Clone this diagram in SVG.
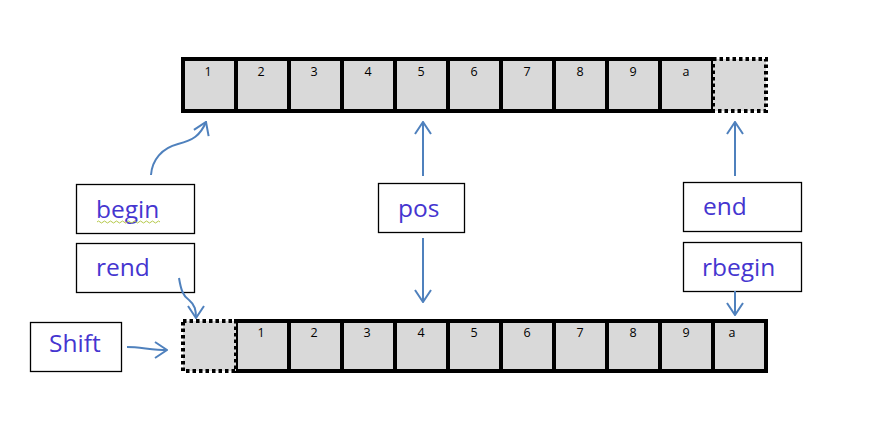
<svg xmlns="http://www.w3.org/2000/svg" width="869" height="438" viewBox="0 0 869 438">
<defs>
<style>
.cell{fill:#d9d9d9;stroke:#000;stroke-width:4}
.dot{fill:#d9d9d9;stroke:#000;stroke-width:4;stroke-dasharray:3.5 3}
.num{font-family:"Open Sans","Liberation Sans",sans-serif;font-size:12.5px;fill:#000;text-anchor:middle}
.box{fill:#fff;stroke:#000;stroke-width:1.3}
.lbl{font-family:"Open Sans","Liberation Sans",sans-serif;font-size:24.5px;fill:#4535d0}
.con{fill:none;stroke:#4f81bd;stroke-width:2}
</style>
<marker id="ah" viewBox="0 0 14 18" refX="13" refY="9" markerWidth="14" markerHeight="18" markerUnits="userSpaceOnUse" orient="auto">
<path d="M1,1 L13,9 L1,17" fill="none" stroke="#4f81bd" stroke-width="2"/>
</marker>
</defs>
<rect width="869" height="438" fill="#fff"/>
<g id="top-array">
<rect class="cell" x="183" y="59" width="53" height="52"/>
<rect class="cell" x="236" y="59" width="53" height="52"/>
<rect class="cell" x="289" y="59" width="53" height="52"/>
<rect class="cell" x="342" y="59" width="53" height="52"/>
<rect class="cell" x="395" y="59" width="53" height="52"/>
<rect class="cell" x="448" y="59" width="53" height="52"/>
<rect class="cell" x="501" y="59" width="53" height="52"/>
<rect class="cell" x="554" y="59" width="53" height="52"/>
<rect class="cell" x="607" y="59" width="53" height="52"/>
<rect class="cell" x="660" y="59" width="53" height="52"/>
<rect class="dot" x="713" y="59" width="53" height="52"/>
<text class="num" x="208" y="76">1</text>
<text class="num" x="261" y="76">2</text>
<text class="num" x="314" y="76">3</text>
<text class="num" x="368" y="76">4</text>
<text class="num" x="421" y="76">5</text>
<text class="num" x="474" y="76">6</text>
<text class="num" x="527" y="76">7</text>
<text class="num" x="580" y="76">8</text>
<text class="num" x="633" y="76">9</text>
<text class="num" x="686" y="76">a</text>
</g>
<g id="bottom-array">
<rect class="cell" x="236" y="321" width="53" height="50"/>
<rect class="cell" x="289" y="321" width="53" height="50"/>
<rect class="cell" x="342" y="321" width="53" height="50"/>
<rect class="cell" x="395" y="321" width="53" height="50"/>
<rect class="cell" x="448" y="321" width="53" height="50"/>
<rect class="cell" x="501" y="321" width="53" height="50"/>
<rect class="cell" x="554" y="321" width="53" height="50"/>
<rect class="cell" x="607" y="321" width="53" height="50"/>
<rect class="cell" x="660" y="321" width="53" height="50"/>
<rect class="cell" x="713" y="321" width="53" height="50"/>
<rect class="dot" x="183" y="321" width="53" height="50"/>
<text class="num" x="261" y="337">1</text>
<text class="num" x="314" y="337">2</text>
<text class="num" x="367" y="337">3</text>
<text class="num" x="421" y="337">4</text>
<text class="num" x="474" y="337">5</text>
<text class="num" x="527" y="337">6</text>
<text class="num" x="580" y="337">7</text>
<text class="num" x="633" y="337">8</text>
<text class="num" x="686" y="337">9</text>
<text class="num" x="732" y="337">a</text>
</g>
<g id="begin">
<rect class="box" x="76.5" y="184.5" width="118" height="49"/>
<text class="lbl" x="96" y="218">begin</text>
<path d="M97,222 q1.5,-2 3,0 t3,0 t3,0 t3,0 t3,0 t3,0 t3,0 t3,0 t3,0 t3,0 t3,0 t3,0 t3,0 t3,0 t3,0 t3,0 t3,0 t3,0 t3,0 t3,0 t3,0" fill="none" stroke="#b5c94a" stroke-width="1"/>
</g>
<g id="rend">
<rect class="box" x="76.5" y="243.5" width="118" height="49"/>
<text class="lbl" x="96" y="276">rend</text>
</g>
<g id="pos">
<rect class="box" x="378.5" y="183.5" width="86" height="49"/>
<text class="lbl" x="398" y="217">pos</text>
</g>
<g id="end">
<rect class="box" x="683.5" y="182.5" width="118" height="49"/>
<text class="lbl" x="703" y="215">end</text>
</g>
<g id="rbegin">
<rect class="box" x="683.5" y="242.5" width="118" height="49"/>
<text class="lbl" x="702" y="276">rbegin</text>
</g>
<g id="shift">
<rect class="box" x="30.5" y="322.5" width="91" height="49"/>
<text class="lbl" x="49" y="352">Shift</text>
</g>
<g id="connectors">
<path class="con" d="M151,175 C152,160 162,148 178,144 C193,140 200,136 206,122" marker-end="url(#ah)"/>
<path class="con" d="M423,176 L423,122" marker-end="url(#ah)"/>
<path class="con" d="M423,238 L423,302" marker-end="url(#ah)"/>
<path class="con" d="M735,176 L735,122" marker-end="url(#ah)"/>
<path class="con" d="M735,291 L735,315" marker-end="url(#ah)"/>
<path class="con" d="M179,278 C181,290 183,296 189,300 C195,305 196,310 196,318" marker-end="url(#ah)"/>
<path class="con" d="M127,347 C140,347 152,350 167,350" marker-end="url(#ah)"/>
</g>
</svg>
